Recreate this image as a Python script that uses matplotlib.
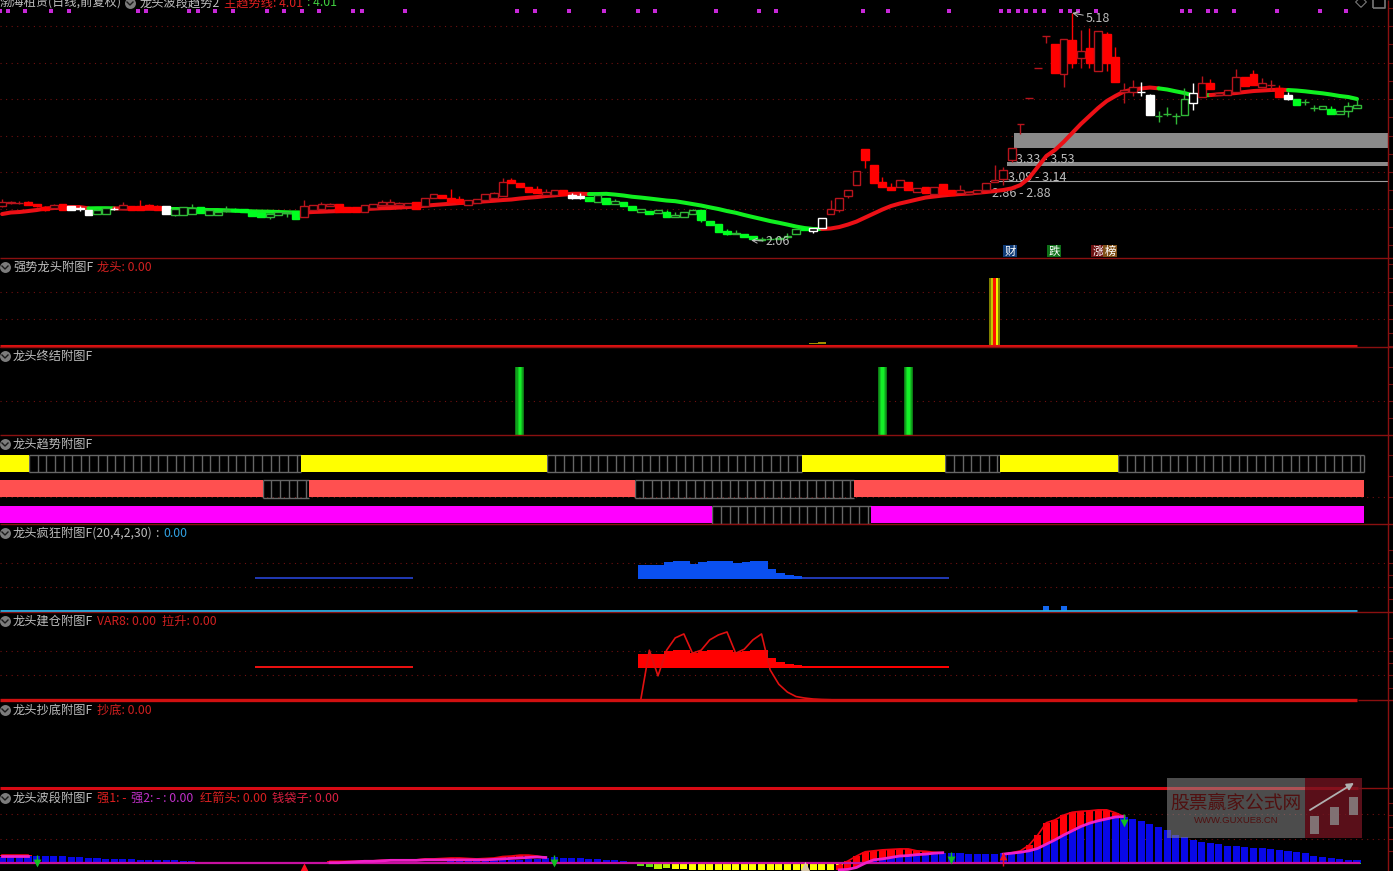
import numpy as np
import matplotlib
matplotlib.use('Agg')
import matplotlib.pyplot as plt

plt.rcParams['font.family'] = ['Noto Sans CJK SC', 'DejaVu Sans']

# main chart, one entry per trading day
body_top = [2.59,2.59,2.58,2.59,2.56,2.52,2.55,2.56,2.54,2.51,
            2.48,2.48,2.51,2.50,2.55,2.54,2.54,2.55,2.54,2.54,
            2.49,2.52,2.51,2.52,2.48,2.46,2.48,2.49,2.49,2.47,
            2.44,2.43,2.45,2.46,2.47,2.53,2.55,2.56,2.57,2.56,
            2.52,2.52,2.55,2.56,2.59,2.59,2.58,2.58,2.59,2.64,
            2.70,2.69,2.64,2.63,2.62,2.63,2.70,2.71,2.87,2.89,
            2.85,2.80,2.77,2.73,2.76,2.76,2.69,2.68,2.66,2.69,
            2.65,2.61,2.59,2.54,2.49,2.47,2.48,2.45,2.41,2.45,
            2.48,2.48,2.33,2.29,2.20,2.17,2.15,2.13,2.09,2.09,
            2.10,2.13,2.22,2.24,2.23,2.37,2.50,2.65,2.75,3.02,
            3.32,3.10,2.87,2.80,2.89,2.87,2.78,2.79,2.79,2.84,
            2.75,2.76,2.73,2.76,2.85,2.89,3.03,3.33,3.66,4.02,
            4.42,4.86,4.75,4.82,4.81,4.66,4.70,4.94,4.89,4.58,
            4.13,4.17,4.10,4.06,3.77,3.79,3.77,4.00,4.08,4.22,
            4.22,4.08,4.13,4.31,4.31,4.34,4.22,4.19,4.15,4.06,
            4.00,3.96,3.88,3.91,3.87,3.84,3.91,3.92]
body_bot = [2.53,2.58,2.58,2.55,2.53,2.48,2.51,2.48,2.48,2.50,
            2.41,2.43,2.43,2.50,2.50,2.48,2.48,2.49,2.48,2.43,
            2.41,2.41,2.43,2.44,2.41,2.41,2.47,2.47,2.46,2.40,
            2.38,2.38,2.41,2.44,2.36,2.38,2.48,2.50,2.53,2.46,
            2.46,2.46,2.46,2.51,2.55,2.55,2.55,2.53,2.49,2.53,
            2.64,2.64,2.59,2.58,2.55,2.58,2.62,2.64,2.68,2.85,
            2.80,2.73,2.71,2.69,2.69,2.69,2.65,2.65,2.60,2.59,
            2.57,2.57,2.53,2.48,2.45,2.42,2.44,2.39,2.39,2.39,
            2.43,2.34,2.28,2.18,2.15,2.15,2.11,2.08,2.07,2.08,
            2.08,2.11,2.15,2.21,2.19,2.24,2.42,2.48,2.68,2.83,
            3.16,2.85,2.80,2.76,2.79,2.76,2.73,2.71,2.70,2.70,
            2.69,2.72,2.70,2.72,2.76,2.86,2.90,3.17,3.66,4.02,
            4.42,4.86,4.36,4.35,4.49,4.57,4.49,4.39,4.49,4.24,
            4.10,4.10,4.10,3.78,3.77,3.79,3.77,3.78,3.95,4.03,
            4.14,4.05,4.05,4.10,4.18,4.19,4.16,4.19,4.03,4.00,
            3.92,3.96,3.88,3.86,3.79,3.79,3.84,3.88]
high = [2.63,2.61,2.61,2.60,2.57,2.53,2.56,2.57,2.54,2.53,
        2.48,2.50,2.51,2.52,2.59,2.54,2.62,2.56,2.55,2.54,
        2.49,2.52,2.56,2.52,2.48,2.46,2.53,2.51,2.49,2.47,
        2.44,2.43,2.46,2.46,2.47,2.62,2.55,2.59,2.58,2.56,
        2.52,2.52,2.55,2.56,2.62,2.63,2.59,2.58,2.59,2.64,
        2.70,2.69,2.77,2.68,2.62,2.63,2.70,2.73,2.92,2.92,
        2.85,2.80,2.81,2.77,2.76,2.76,2.71,2.71,2.66,2.69,
        2.65,2.63,2.59,2.54,2.50,2.47,2.48,2.48,2.45,2.45,
        2.50,2.48,2.33,2.29,2.22,2.21,2.15,2.13,2.11,2.13,
        2.13,2.16,2.22,2.24,2.23,2.37,2.62,2.65,2.75,3.02,
        3.32,3.10,2.94,2.85,2.89,2.87,2.78,2.79,2.79,2.84,
        2.75,2.82,2.73,2.76,2.85,3.10,3.07,3.33,3.66,4.02,
        4.42,4.86,4.75,4.82,5.18,4.95,4.97,4.94,4.92,4.72,
        4.22,4.26,4.23,4.07,3.84,3.89,3.81,4.15,4.22,4.32,
        4.28,4.08,4.13,4.41,4.31,4.40,4.29,4.26,4.19,4.10,
        4.00,4.00,3.92,3.91,3.91,3.84,3.96,4.00]
low = [2.52,2.57,2.56,2.55,2.52,2.47,2.50,2.48,2.48,2.47,
       2.41,2.42,2.43,2.48,2.50,2.48,2.48,2.49,2.48,2.43,
       2.40,2.41,2.43,2.44,2.41,2.41,2.46,2.46,2.46,2.40,
       2.38,2.36,2.41,2.39,2.36,2.38,2.48,2.50,2.53,2.46,
       2.46,2.46,2.46,2.51,2.55,2.55,2.55,2.53,2.49,2.53,
       2.64,2.64,2.59,2.58,2.55,2.58,2.62,2.64,2.68,2.85,
       2.80,2.73,2.71,2.69,2.69,2.69,2.63,2.63,2.60,2.59,
       2.57,2.57,2.53,2.48,2.45,2.42,2.44,2.39,2.39,2.39,
       2.43,2.32,2.28,2.18,2.14,2.15,2.11,2.08,2.06,2.08,
       2.08,2.09,2.15,2.21,2.17,2.24,2.42,2.45,2.65,2.83,
       3.05,2.85,2.80,2.76,2.79,2.76,2.73,2.71,2.70,2.70,
       2.69,2.72,2.70,2.72,2.76,2.86,2.82,3.14,3.52,4.02,
       4.42,4.77,4.36,4.17,4.43,4.43,4.43,4.39,4.38,4.24,
       3.95,4.04,4.04,3.78,3.69,3.77,3.66,3.78,3.85,4.03,
       4.14,4.05,4.05,4.10,4.18,4.19,4.16,4.13,4.03,3.99,
       3.92,3.92,3.84,3.86,3.79,3.79,3.75,3.88]
# r solid red, h hollow red, g solid green, k hollow green, w solid white, W hollow white
kinds = ("hhhrrrhrww" "wkkwhrrrrw" "kkkgkkkggg" "gkkkghhhhr" "rrhhhhhhrh"
         "hrrrhhhhhr" "rrrhhrwwgk" "gkggkgkgkk" "kggggkggkk" "kkkgWWhhhh"
         "rrrrhrhrhr" "rhhhhhhhhh" "hhrhrhrhrr" "hhwwkkkkWh" "rhhhrrhhrw"
         "gkkkgkkk")
trend = [2.426,2.447,2.454,2.467,2.481,2.502,2.508,2.515,2.522,2.522,
         2.504,2.506,2.506,2.504,2.502,2.499,2.499,2.499,2.497,2.495,
         2.495,2.495,2.491,2.485,2.481,2.481,2.477,2.471,2.467,2.463,
         2.460,2.458,2.454,2.450,2.447,2.447,2.454,2.458,2.463,2.467,
         2.471,2.477,2.495,2.500,2.506,2.508,2.515,2.522,2.529,2.540,
         2.550,2.559,2.567,2.577,2.581,2.591,2.600,2.608,2.618,2.625,
         2.639,2.650,2.659,2.673,2.682,2.693,2.703,2.704,2.700,2.700,
         2.703,2.693,2.680,2.663,2.652,2.639,2.625,2.611,2.602,2.583,
         2.563,2.543,2.518,2.495,2.467,2.444,2.413,2.385,2.358,2.330,
         2.307,2.282,2.255,2.234,2.221,2.221,2.228,2.248,2.282,2.323,
         2.378,2.433,2.488,2.536,2.570,2.597,2.625,2.652,2.666,2.680,
         2.691,2.700,2.707,2.718,2.728,2.741,2.755,2.778,2.823,2.919,
         3.070,3.221,3.303,3.413,3.536,3.659,3.769,3.878,3.974,4.043,
         4.104,4.132,4.146,4.159,4.148,4.132,4.107,4.084,4.050,4.050,
         4.056,4.066,4.074,4.084,4.098,4.111,4.118,4.125,4.129,4.125,
         4.118,4.107,4.093,4.080,4.063,4.043,4.029,4.002]
trend_runs = [(0, 10, 'r'), (10, 13, 'g'), (13, 19, 'r'), (19, 35, 'g'), (35, 68, 'r'),
              (68, 95, 'g'), (95, 134, 'r'), (134, 140, 'g'), (140, 149, 'r'), (149, 157, 'g')]
signal_bars = [0, 1, 3, 6, 8, 16, 17, 22, 23, 25, 27, 31, 33, 35, 37, 41, 42, 47,
               60, 62, 66, 70, 74, 76, 83, 88, 90, 100, 103, 110,
               116, 117, 118, 119, 120, 121, 123, 124, 125, 127,
               137, 138, 140, 141, 143, 148, 153, 156]
signal_price = 5.207
zones = [(117.3, 3.33, 3.53), (116.4, 3.09, 3.14), (114.5, 2.86, 2.88)]

# sub panels
dragon_stripes = [(114.36, 0.23, '#808000'), (114.59, 0.25, '#C8C800'), (114.84, 0.32, '#FF1000'),
                  (115.16, 0.27, '#F0F000'), (115.43, 0.20, '#808000')]
dragon_small = [(94, 4.5), (95, 6.0)]
end_bars = [60, 102, 105]
end_value = 100
yellow_on = [(-0.3, 3.12), (34.6, 63.1), (92.7, 109.3), (115.6, 129.3)]
salmon_on = [(-0.3, 30.2), (35.6, 73.3), (98.7, 157.8)]
magenta_on = [(-0.3, 82.3), (100.7, 157.8)]
trend_end = 157.8

crazy_base = 66.5
crazy_bars = list(range(74, 110))
crazy_tops = [95,95,95,101,103,103,97,101,103,103,103,98,101,103,103,87,78,74,72,
              70,70,70,70,70,70,70,70,70,70,70,70,70,70,70,70,70]
thin_bars = list(range(30, 48))
crazy_thin = 70
crazy_blips = [(121, 10), (123, 10)]

build_base = 65.5
build_tops = [93,93,93,99,101,101,95,99,101,101,101,97,99,101,101,85,77,73,71,
              69,69,69,69,69,69,69,69,69,69,69,69,69,69,69,69,69]
build_thin = 69
build_small = [(b, 3) for b in range(30, 35)]
lift_bars = list(range(74, 97))
lift_vals = [0,101,49,101,126,134,95,101,122,132,138,95,103,122,134,61,32,16,7,4,2,1,0.5]

# bottom panel bars: start bar + values
blue_a = (0, [11,11,12,14,14,14,14,14,11,11,10,10,8,8,7,7,6,6,6,6,5,4,4])
blue_b = (50, [2,2,3,3,3,4,4,5,5,6,6,7,8,10,11,9,10,10,8,8,6,5,3.5])
blue_c = (100, [0,3.5,8,11,13,15,17,18,20,21,21,21,18,18,18,18,20,22,25,31,36,46,55,65,72,79,85,90,93,97,
                95,92,87,81,76,69,58,53,48,44,41,39,36,36,32,31,31,29,27,25,22,20,15,11,9,7,6,5])
neg_a = (24, [-2,-2,0,-2,-2,-2,-2,-3,-3,-3,-3])
neg_b = (72, [-3,-3,-6,-8,-13,-12,-14,-14,-16,-16,-16,-16,-16,-16,-16,-16,-16,-16,-16,-16,-16,-16,-16,-16,-16,-16,-14,-6])
neg_c = (153, [-2,-2,-2,-2,-2])
fast_a = (0, [17,17,17,17])
slow_a = (0, [14,14,14,14])
fast_b = (38, [3,3,3,3,4,4,5,5,6,6,6,8,8,9,10,10,9,8,9,10,13,14,16,16,14,11])
slow_b = (38, [0,0,1,2,3,3,4,5,5,5,5,6,6,6,6,6,6,6,6,7,8,9,10,11,12,11])
fast_c = (97, [-5,3.5,14,23,25,27,28,29,29,25,24,22,21])
slow_c = (97, [-15,-14,-10,-1,6,8,11,14,15,17,18,20,21])
fast_d = (116, [18,21,25,37,58,84,90,100,106,108,109,111,111,105,97])
slow_d = (116, [18,20,22,25,30,39,48,58,67,76,83,88,92,96,97])
green_arrows = [(4, 12), (64, 12), (110, 18), (130, 97)]
red_arrows = [(116, 8)]
red_triangle = (35, -11)

# layout helpers, everything is placed in screen pixels of the 1393x871 picture
W, H = 1393, 871
X0, DX = 2.1, 8.63
RED_D = '#701010'
GREY = '#bdbdbd'


def bar_x(px):
    return (px - X0) / DX


def panel(top, bottom, ymin, ymax):
    ax = fig.add_axes([0, 1 - bottom / H, 1, (bottom - top) / H], facecolor='black')
    ax.set_xlim(bar_x(0), bar_x(W))
    ax.set_ylim(ymin, ymax)
    ax.axis('off')
    return ax


def guides(ax, dotted, ticks):
    ax.hlines(dotted, bar_x(0), bar_x(1387), color=RED_D, lw=0.8, linestyles=(0, (1, 4)), zorder=0)
    ax.hlines(ticks, bar_x(1388), bar_x(1393), color=RED_D, lw=0.8, zorder=0)


def xy(series):
    start, vals = series
    return np.arange(start, start + len(vals)), np.array(vals, dtype=float)


fig = plt.figure(figsize=(W / 100, H / 100), dpi=100, facecolor='black')

# main price panel
ax = panel(0, 258, 1.824, 5.358)
guides(ax, [2.5, 3.0, 3.5, 4.0, 4.5, 5.0], np.arange(2.0, 5.3, 0.25))
for start, lo, hi in zones:
    ax.fill_between([start, bar_x(1388)], lo, hi, color='#8a8a8a', lw=0, zorder=1)
    ax.text(start + 0.2, lo - 0.07, f'{lo:.2f} - {hi:.2f}', color=GREY, fontsize=9, va='top', zorder=2)
ax.hlines(2.88, zones[2][0], bar_x(1388), color='#a0a0a0', lw=0.8, zorder=1)
trend_col = {'r': '#EC1016', 'g': '#10F020'}
for a, b, c in trend_runs:
    ax.plot(np.arange(a, b + 1), trend[a:b + 1], color=trend_col[c], lw=2.9,
            solid_capstyle='round', zorder=3)
styles = {'r': ('#FF0000', '#FF0000'), 'h': ('black', '#B8141C'),
          'g': ('#00FF20', '#00FF20'), 'k': ('black', '#30B838'),
          'w': ('#FFFFFF', '#FFFFFF'), 'W': ('black', '#FFFFFF')}
for i, k in enumerate(kinds):
    face, edge = styles[k]
    ax.vlines(i, low[i], high[i], color=edge, lw=1, zorder=4)
    ax.bar(i, body_top[i] - body_bot[i], bottom=body_bot[i], width=0.9,
           facecolor=face, edgecolor=edge, lw=1, zorder=5)
ax.scatter(np.array(signal_bars) - 0.3, [signal_price] * len(signal_bars),
           marker='s', s=9, color='#C828D8', lw=0, zorder=6)
ax.annotate('5.18', xy=(124, 5.18), xytext=(125.6, 5.11), color=GREY, fontsize=9, va='center',
            arrowprops=dict(arrowstyle='->', color=GREY, lw=0.7, shrinkA=0, shrinkB=0), zorder=7)
ax.annotate('2.06', xy=(86.8, 2.065), xytext=(88.5, 2.05), color=GREY, fontsize=9, va='center',
            arrowprops=dict(arrowstyle='->', color=GREY, lw=0.7, shrinkA=0, shrinkB=0), zorder=7)

# 强势龙头
ax = panel(258, 347, -1, 129)
guides(ax, [40, 80], [0, 20, 40, 60, 80, 100, 120])
for start, width, col in dragon_stripes:
    ax.bar(start, 100, width=width, align='edge', color=col, lw=0, zorder=2)
for b, v in dragon_small:
    ax.bar(b, v - 3, bottom=3, width=1, color='#A09000', lw=0, zorder=2)
ax.hlines(0, bar_x(0), 157, color='#E01010', lw=2.2, zorder=3, clip_on=False)

# 龙头终结
ax = panel(347, 435, -0.7, 130.4)
guides(ax, [50], [25, 50, 75, 100])
for b in end_bars:
    for width, col in zip([1.05, 0.8, 0.55, 0.3], ['#0C7A14', '#10A01C', '#12CC22', '#14F028']):
        ax.bar(b, end_value, width=width, color=col, lw=0, zorder=2)

# 龙头趋势
ax = panel(435, 524, 0, 89)
guides(ax, [26.7], [26.7, 48, 69])
bands = [(yellow_on, '#FFFF00', 51.7, 69), (salmon_on, '#FF5050', 26.5, 44), (magenta_on, '#FF00FF', 0.5, 18)]
for runs, col, lo, hi in bands:
    prev = runs[0][1]
    for a, b in runs:
        if a > prev:
            ax.vlines(np.arange(prev, a, 1.0), lo, hi, color='#666666', lw=1, zorder=2)
            ax.hlines([lo, hi], prev, a, color='#666666', lw=1, zorder=2)
            ax.fill_between([prev, a], lo, hi, color='black', lw=0, zorder=1)
        ax.fill_between([a, b], lo, hi, color=col, lw=0, zorder=3)
        prev = b
    if prev < trend_end:
        ax.fill_between([prev, trend_end], lo, hi, color='black', lw=0, zorder=1)
        ax.vlines(np.append(np.arange(prev, trend_end, 1.0), trend_end), lo, hi, color='#666666', lw=1, zorder=2)
        ax.hlines([lo, hi], prev, trend_end, color='#666666', lw=1, zorder=2)

# 龙头疯狂
ax = panel(524, 612, -2, 179.4)
guides(ax, [50, 100], [25, 50, 75, 100, 125])
ax.bar(thin_bars, crazy_thin - crazy_base, bottom=crazy_base, width=1.3, color='#2038B0', lw=0, zorder=2)
for b, t in zip(crazy_bars, crazy_tops):
    col = '#0A50F0' if t > crazy_thin else '#2038B0'
    ax.bar(b + 0.2, t - crazy_base, bottom=crazy_base, width=1.02, color=col, lw=0, zorder=2)
for b, v in crazy_blips:
    ax.bar(b, v, width=0.7, color='#1468F0', lw=0, zorder=2)
ax.hlines(0, bar_x(0), 157, color='#28B4EC', lw=2, zorder=3, clip_on=False)

# 龙头建仓
ax = panel(612, 701, -2, 178.5)
guides(ax, [50, 100], [25, 50, 75, 100, 125])
ax.bar(thin_bars, build_thin - build_base, bottom=build_base, width=1.3, color='#E81010', lw=0, zorder=2)
ax.bar(np.array(crazy_bars) + 0.2, np.array(build_tops) - build_base, bottom=build_base, width=1.02,
       color='#FF0000', lw=0, zorder=2)
ax.plot(lift_bars, lift_vals, color='#E01010', lw=1.2, zorder=3)
ax.bar([b for b, v in build_small], [v for b, v in build_small], width=1, color='#FF0000', lw=0, zorder=2)
ax.hlines(0, bar_x(0), 157, color='#D01010', lw=2.4, zorder=4, clip_on=False)

# 龙头波段
ax = panel(788, 871, -17.4, 156.9)
guides(ax, [50, 103], [25, 50, 75, 100, 125])
for series in (blue_a, blue_b, blue_c):
    xs, vals = xy(series)
    ax.bar(xs, vals, width=0.82, color='#0808E8', lw=0, zorder=2)


def neg_color(v):
    if v > -4:
        return '#38C038'
    if v > -9:
        return '#60E010'
    if v > -13.5:
        return '#B8F000'
    return '#FFFF00'


for series in (neg_a, neg_b, neg_c):
    xs, vals = xy(series)
    ax.bar(xs, vals, width=0.82, color=[neg_color(v) for v in vals], lw=0, zorder=2)
for fast, slow in ((fast_a, slow_a), (fast_b, slow_b), (fast_c, slow_c), (fast_d, slow_d)):
    xs, f = xy(fast)
    s = xy(slow)[1]
    ax.bar(xs, f - s, bottom=s, width=0.82, color='#FF0008', lw=0, zorder=3)
    ax.plot(xs, f, color='#F00010', lw=1.2, zorder=4)
    ax.plot(xs, s, color='#F020C8', lw=2, zorder=5)
ax.hlines(0, bar_x(0), 157.3, color='#C810A0', lw=1.6, zorder=4)
ax.scatter([93], [-11], marker='^', s=90, color='#D8C8A8', lw=0, zorder=6)
for b, v in green_arrows:
    ax.vlines(b, v - 16, v + 5, color='#10C020', lw=1, zorder=6)
    ax.scatter([b], [v - 13], marker='v', s=32, color='#10C020', lw=0, zorder=6)
for b, v in red_arrows:
    ax.vlines(b, v - 14, v + 10, color='#F01020', lw=1, zorder=6)
    ax.scatter([b], [v + 7], marker='^', s=32, color='#F01020', lw=0, zorder=6)
ax.scatter([red_triangle[0]], [red_triangle[1]], marker='^', s=55, color='#FF1020', lw=0, zorder=6)

# overlay in pixel coordinates: separators, captions, badges, watermark
ov = fig.add_axes([0, 0, 1, 1])
ov.set_xlim(0, W)
ov.set_ylim(H, 0)
ov.axis('off')
ov.patch.set_alpha(0)
ov.hlines([258, 347, 435, 524, 612], 0, W, color='#8a1010', lw=1)
ov.hlines(700, 1358, W, color='#8a1010', lw=1)
ov.hlines(788, 0, 1358, color='#D80A14', lw=2.2)
ov.hlines(788, 1358, W, color='#8a1010', lw=1)
ov.vlines(1388, 0, H, color='#8a1010', lw=1)

captions = [
    (3, [(0, '渤海租赁(日线,前复权)', GREY), (140, '龙头波段趋势2', GREY),
         (224, '主趋势线: 4.01', '#E02020'), (307, ': 4.01', '#40D040')]),
    (267, [(13, '强势龙头附图F', GREY), (97, '龙头: 0.00', '#D02020')]),
    (356, [(13, '龙头终结附图F', GREY)]),
    (444, [(13, '龙头趋势附图F', GREY)]),
    (533, [(13, '龙头疯狂附图F(20,4,2,30)', GREY), (155, ':', GREY), (163, '0.00', '#30A0E0')]),
    (621, [(13, '龙头建仓附图F', GREY), (97, 'VAR8: 0.00', '#D02020'), (162, '拉升: 0.00', '#D02020')]),
    (710, [(13, '龙头抄底附图F', GREY), (97, '抄底: 0.00', '#D02020')]),
    (798, [(13, '龙头波段附图F', GREY), (97, '强1: -', '#E02020'), (131, '强2: - : 0.00', '#C030C8'),
           (200, '红箭头: 0.00', '#D82020'), (272, '钱袋子: 0.00', '#D82040')]),
]
for y, parts in captions:
    for x, label, col in parts:
        ov.text(x, y, label, color=col, fontsize=8.8, va='center', ha='left', zorder=5)
    cx = 130 if y == 3 else 5
    ov.scatter([cx], [y], s=62, color='#7c7c7c', lw=0, zorder=5)
    ov.plot([cx - 3, cx, cx + 3], [y - 1, y + 2, y - 1], color='#1a1a1a', lw=1, zorder=6)

badges = [(1010, '财', '#103C78'), (1054, '跌', '#0E7018'), (1098, '涨', '#6C1010'), (1110, '榜', '#805018')]
for x, label, col in badges:
    ov.text(x, 251, label, color='white', fontsize=8.2, ha='center', va='center', zorder=5,
            bbox=dict(boxstyle='square,pad=0.08', facecolor=col, edgecolor='none'))
ov.scatter([1361], [2], marker='D', s=30, facecolor='none', edgecolor='#777777', lw=0.8)
ov.scatter([1379], [2], marker='s', s=70, facecolor='none', edgecolor='#777777', lw=1.2)

ov.fill_between([1167, 1305], 778, 838, color='#8c8c8c', alpha=0.55, lw=0, zorder=7)
ov.fill_between([1305, 1362], 778, 838, color='#701420', alpha=0.8, lw=0, zorder=7)
ov.text(1236, 803, '股票赢家公式网', color='#501010', fontsize=13.5, ha='center', va='center', zorder=8)
ov.text(1236, 820, 'WWW.GUXUE8.CN', color='#501010', fontsize=6.8, ha='center', va='center',
        family='Liberation Sans', zorder=8)
for x, top, bot in [(1314.5, 816, 834), (1334, 807, 825), (1353, 797, 815)]:
    ov.fill_between([x - 4.5, x + 4.5], top, bot, color='#8a8a8a', alpha=0.8, lw=0, zorder=8)
ov.annotate('', xy=(1354, 783), xytext=(1310, 810), zorder=8,
            arrowprops=dict(arrowstyle='-|>', color='#b0b0b0', lw=1.3, shrinkA=0, shrinkB=0))

fig.savefig('out.png', dpi=100, facecolor='black')
